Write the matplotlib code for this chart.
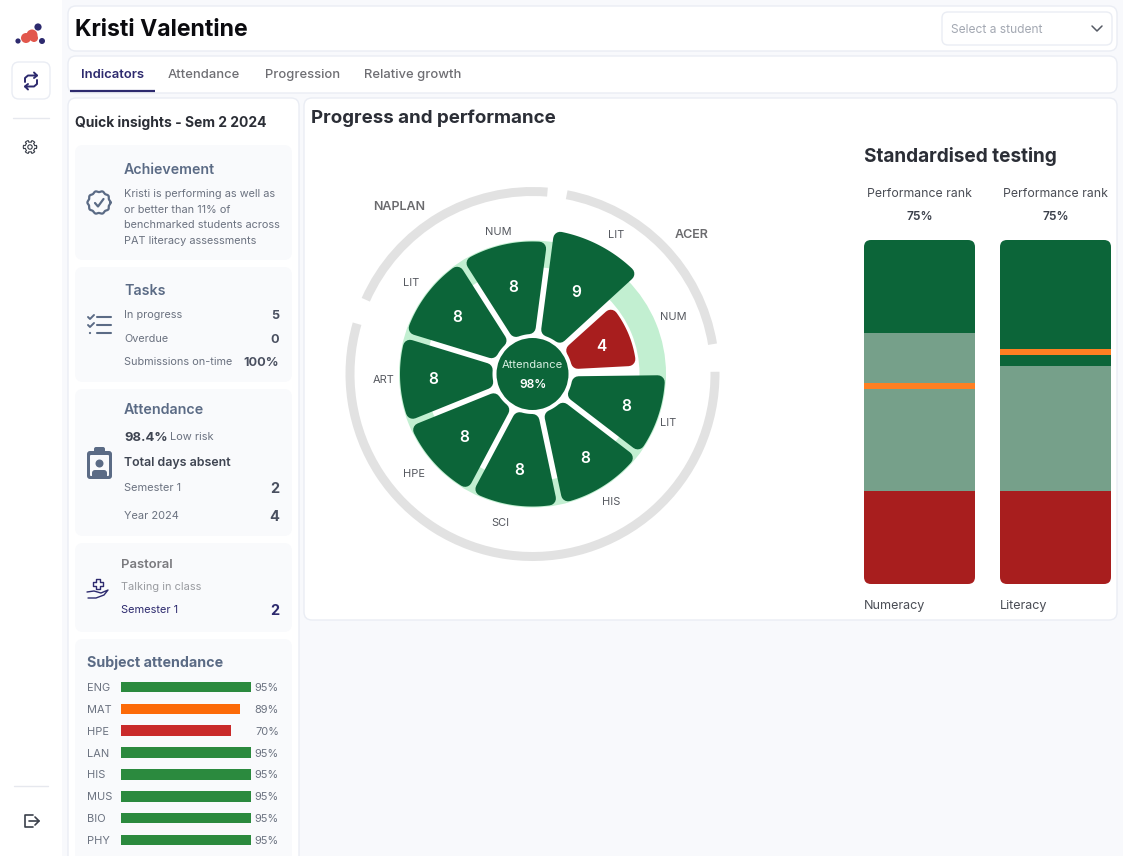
import numpy as np
import matplotlib
matplotlib.use("Agg")
import matplotlib.pyplot as plt
from matplotlib.patches import FancyBboxPatch, Circle
from matplotlib.transforms import ScaledTranslation

plt.rcParams['font.family'] = ['Inter', 'DejaVu Sans']

W, H = 1123, 856

# radial chart data
seg_names = ['LIT', 'NUM', 'LIT', 'HIS', 'SCI', 'HPE', 'ART', 'LIT', 'NUM']
seg_values = [9, 4, 8, 8, 8, 8, 8, 8, 8]
seg_colors = ['#0C6539', '#A81E1E'] + ['#0C6539'] * 7
attendance_pct = '98%'

# subject attendance
subjects = ['ENG', 'MAT', 'HPE', 'LAN', 'HIS', 'MUS', 'BIO', 'PHY']
subject_labels = ['95%', '89%', '70%', '95%', '95%', '95%', '95%', '95%']
subject_fill = [100, 91.5, 84.6, 100, 100, 100, 100, 100]
subject_colors = ['#2B8A3E', '#FC6A08', '#C92A2A', '#2B8A3E', '#2B8A3E', '#2B8A3E', '#2B8A3E', '#2B8A3E']

# standardised testing
test_names = ['Numeracy', 'Literacy']
test_rank = ['75%', '75%']
test_low = [27.1, 27.1]
test_mid = [72.9, 63.5]
test_marker = [57.6, 67.5]

DARK = '#0C6539'
SLATE = '#5B6B85'
GREY = '#6B7280'
INK = '#3A3F4A'
NAVY = '#2D2A6E'

fig = plt.figure(figsize=(W / 100, H / 100), dpi=100, facecolor='#F8F9FC')
base = fig.add_axes([0, 0, 1, 1])
base.set_xlim(0, W)
base.set_ylim(H, 0)
base.axis('off')


def box(x0, y0, x1, y1, fc='white', ec='#EAEDF4', rad=8, lw=1.0, z=1):
    p = FancyBboxPatch((x0, y0), x1 - x0, y1 - y0, boxstyle=f'round,pad=0,rounding_size={rad}',
                       fc=fc, ec=ec, lw=lw, zorder=z)
    base.add_patch(p)
    return p


def label(x, y, s, px=11, color=GREY, weight='normal', ha='left'):
    base.text(x, y - 0.7, s, fontsize=px * 0.72, color=color, fontweight=weight, ha=ha, va='center_baseline', zorder=6)


def line(xs, ys, color=SLATE, lw=1.4, z=5):
    base.plot(xs, ys, color=color, lw=lw, solid_capstyle='round', solid_joinstyle='round', zorder=z)


# sidebar
base.add_patch(plt.Rectangle((0, 0), 62, H, fc='white', ec='none', zorder=1))
for x, y, r, c in [(38, 27, 3.6, NAVY), (18, 41, 2.6, NAVY), (42, 41, 3, NAVY),
                   (26, 38, 5, '#E2574C'), (32, 35, 5.5, '#E2574C'), (34, 38, 4, '#E2574C')]:
    base.add_patch(Circle((x, y), r, fc=c, ec='none', zorder=5))
box(12, 62, 50, 99, rad=7)
line([25, 25, 28, 37, 34], [82, 78, 75.5, 75.5, 72.5], NAVY)
line([37, 34], [75.5, 78], NAVY)
line([37, 37, 34, 25, 28], [80, 84, 86.5, 86.5, 89.5], NAVY)
line([25, 28], [86.5, 84], NAVY)
line([13, 49], [118, 118], '#E6E8EE', 1)
# gear
a = np.linspace(0, 2 * np.pi, 240)
rr = 5.8 + 0.9 * np.sign(np.cos(6 * a))
line(30 + rr * np.cos(a), 147 + rr * np.sin(a), INK, 0.8)
base.add_patch(Circle((30, 147), 2.2, fc='none', ec=INK, lw=0.8, zorder=5))
line([14, 48], [786, 786], '#E6E8EE', 1)
line([33, 25, 25, 33], [815, 815, 827, 827], INK, 1.2)
line([29, 39], [821, 821], INK, 1.2)
line([35, 39, 35], [817, 821, 825], INK, 1.2)

# header and tabs
box(68, 6, 1117, 51)
label(75, 28.5, 'Kristi Valentine', 23, '#0B0B0F', 'bold')
box(942, 12, 1112, 45, rad=6)
label(951, 29, 'Select a student', 12, '#A3A8B2')
line([1092, 1097, 1102], [26, 31, 26], '#555A64', 1.1)
box(68, 56, 1117, 93)
label(81, 74, 'Indicators', 13, NAVY, 'semibold')
label(168, 74, 'Attendance', 13, '#6E6E73', 'medium')
label(265, 74, 'Progression', 13, '#6E6E73', 'medium')
label(364, 74, 'Relative growth', 13, '#6E6E73', 'medium')
base.plot([70, 155], [91, 91], color=NAVY, lw=1.6, solid_capstyle='butt', zorder=5)

# left panel
box(68, 98, 299, 880)
label(75, 122, 'Quick insights - Sem 2 2024', 13.9, '#2B2E36', 'bold')
tile = '#F9FAFC'
for y0, y1 in [(145, 260), (267, 382), (389, 536), (543, 632), (639, 880)]:
    box(75, y0, 292, y1, fc=tile, ec='none', rad=8)

label(124, 169, 'Achievement', 14.2, SLATE, 'semibold')
for i, s in enumerate(['Kristi is performing as well as', 'or better than 11% of',
                       'benchmarked students across', 'PAT literacy assessments']):
    label(124, 194 + i * 15.5, s, 10.9, GREY)
# badge icon
a = np.linspace(0, 2 * np.pi, 200)
rr = 11 + 0.6 * np.cos(10 * a)
line(99 + rr * np.cos(a), 202.5 + rr * np.sin(a), SLATE, 1.6)
line([95, 98, 103.5], [203, 206.5, 199], SLATE, 1.6)

label(124, 290, 'Tasks', 14.2, SLATE, 'semibold')
for y, s, v in [(315, 'In progress', '5'), (339, 'Overdue', '0'), (362, 'Submissions on-time', '100%')]:
    label(124, y, s, 10.9, GREY)
    label(279, y, v, 12.6, '#4A5060', 'bold', ha='right')
for y in [317, 325, 333]:
    line([97, 111], [y, y], SLATE, 1.5)
line([88, 90, 94], [317, 319, 315], SLATE, 1.4)
line([88, 90, 94], [325, 327, 323], SLATE, 1.4)
base.add_patch(Circle((90, 333), 1.1, fc=SLATE, ec='none', zorder=5))

label(124, 409, 'Attendance', 14.3, SLATE, 'semibold')
label(124, 437, '98.4%', 13, '#3F4552', 'bold')
label(170, 437, 'Low risk', 11, GREY)
label(124, 462, 'Total days absent', 12.4, '#3F4552', 'semibold')
for y, s, v in [(488, 'Semester 1', '2'), (516, 'Year 2024', '4')]:
    label(124, y, s, 11, GREY)
    label(279, y, v, 14.5, '#4A5060', 'bold', ha='right')
# clipboard icon
box(87, 451, 112, 479, fc=SLATE, ec='none', rad=3, z=5)
box(94, 447, 105, 454, fc=SLATE, ec='none', rad=2, z=5)
box(90, 455, 109, 476, fc=tile, ec='none', rad=1, z=5)
base.add_patch(Circle((99.5, 463.5), 4, fc=SLATE, ec='none', zorder=5))
box(92, 470, 107, 479, fc=SLATE, ec='none', rad=3, z=5)

label(121, 564, 'Pastoral', 13, '#7A7A7E', 'semibold')
label(121, 587, 'Talking in class', 11, '#999BA0')
label(121, 610, 'Semester 1', 11, NAVY)
label(279, 610, '2', 14.5, NAVY, 'bold', ha='right')
line([95.5, 95.5, 99.5, 99.5, 102.5, 102.5, 99.5, 99.5, 95.5, 95.5, 92.5, 92.5, 95.5],
     [582, 579, 579, 582, 582, 586, 586, 589, 589, 586, 586, 582, 582], NAVY, 1)
line([87, 94, 101, 108, 104, 96, 88], [592, 591, 593, 590, 595, 598, 598], NAVY, 1)

label(87, 662, 'Subject attendance', 14.3, SLATE, 'bold')

# subject bars
sub_ax = fig.add_axes([121 / W, 1 - 851 / H, 130 / W, 175 / H], facecolor='none', zorder=3)
ypos = np.arange(len(subjects))
sub_ax.barh(ypos, subject_fill, height=0.48, color=subject_colors)
sub_ax.set_xlim(0, 100)
sub_ax.set_ylim(len(subjects) - 0.5, -0.5)
sub_ax.set_yticks(ypos, subjects, fontsize=11 * 0.72, color=GREY)
sub_ax.tick_params(axis='y', length=0, pad=0)
for t in sub_ax.get_yticklabels():
    t.set_ha('left')
    t.set_x(-34 / 130)
sub_ax.set_xticks([])
for s in sub_ax.spines.values():
    s.set_visible(False)
for y, s in zip(ypos, subject_labels):
    sub_ax.text(1.215, y, s, transform=sub_ax.get_yaxis_transform(), fontsize=11 * 0.72,
                color=GREY, ha='right', va='center_baseline')

# right panel
box(304, 98, 1117, 620)
label(311, 117, 'Progress and performance', 18.7, '#2B2E36', 'bold')
label(864, 155, 'Standardised testing', 19, '#2B2E36', 'bold')

# radial chart, radius unit is one pixel
cx, cy, rmax = 532.5, 374, 192
pol = fig.add_axes([(cx - rmax) / W, 1 - (cy + rmax) / H, 2 * rmax / W, 2 * rmax / H],
                   projection='polar', facecolor='none', zorder=3)
pol.set_theta_zero_location('N')
pol.set_theta_direction(-1)
pol.set_rlim(0, rmax)
pol.axis('off')

# grey arcs round the outside (ACER, rest, NAPLAN)
for d0, d1 in [(10.8, 80.6), (89.3, 286), (294, 364.7)]:
    pol.bar(np.radians((d0 + d1) / 2), 9, width=np.radians(d1 - d0), bottom=178, color='#E2E2E2')
pol.bar(0, 26.5, width=2 * np.pi, bottom=107, color='#C2EFD1')


def radius(v):
    return np.interp(v, [4, 8, 9], [104, 132.5, 145])


seg_spans = [(7.5, 47.5), (48, 87), (89.3, 127.5), (127.5, 168), (168, 208),
             (208, 248), (248, 287), (287, 327.5), (327.5, 367.5)]
seg_label_r = [94, 75, 99, 98, 96, 92, 99, 95, 90]
r_in = 40
corner = 7
half_gap = 2.8
for (d0, d1), v, c, lr in zip(seg_spans, seg_values, seg_colors, seg_label_r):
    t0, t1 = np.radians(d0), np.radians(d1)
    ro = radius(v) - corner
    ri = r_in + corner
    g = half_gap + corner
    arc_o = np.linspace(t0 + np.arcsin(g / ro), t1 - np.arcsin(g / ro), 40)
    arc_i = np.linspace(t1 - np.arcsin(g / ri), t0 + np.arcsin(g / ri), 12)
    th = np.r_[arc_o, arc_i]
    rs = np.r_[np.full(40, ro), np.full(12, ri)]
    pol.fill(th, rs, fc=c, ec=c, lw=corner * 2 * 0.72, joinstyle='round', zorder=3)
    pol.text((t0 + t1) / 2, lr, str(v), color='white', fontsize=15.5 * 0.72,
             fontweight='semibold', ha='center', va='center_baseline', zorder=5)

pol.bar(0, 36, width=2 * np.pi, bottom=0, color=DARK, zorder=4)
pol.text(0, 0, 'Attendance', color='#D8EFE2', fontsize=11.2 * 0.72, ha='center', va='center_baseline', zorder=6,
         transform=pol.transData + ScaledTranslation(0, 10 / 100, fig.dpi_scale_trans))
pol.text(0, 0, attendance_pct, color='white', fontsize=12 * 0.72, fontweight='semibold', ha='center',
         va='center_baseline', zorder=6,
         transform=pol.transData + ScaledTranslation(0, -9 / 100, fig.dpi_scale_trans))

# segment name positions taken by eye, they do not follow one radius
name_xy = [(616, 235), (673, 317), (668, 423), (611, 502), (500, 523), (414, 474), (384, 380), (411, 283), (498, 232)]
for (x, y), s in zip(name_xy, seg_names):
    label(x, y, s, 11, '#55585F', ha='center')
label(399, 206, 'NAPLAN', 12.5, '#6B6B6E', 'semibold', ha='center')
label(692, 234, 'ACER', 12.5, '#6B6B6E', 'semibold', ha='center')

# stacked bars
for i, x0 in enumerate([864, 1000]):
    bw = 111
    y0, y1 = 240, 584
    ax = fig.add_axes([x0 / W, 1 - y1 / H, bw / W, (y1 - y0) / H], facecolor='none', zorder=3)
    ax.set_xlim(0, 1)
    ax.set_ylim(0, 100)
    ax.axis('off')
    clip = FancyBboxPatch((x0, y0), bw, y1 - y0, boxstyle='round,pad=0,rounding_size=7', fc='none', ec='none')
    base.add_patch(clip)
    parts = [ax.bar(0.5, test_low[i], width=1, color='#A81E1E'),
             ax.bar(0.5, test_mid[i] - test_low[i], width=1, bottom=test_low[i], color='#76A08A'),
             ax.bar(0.5, 100 - test_mid[i], width=1, bottom=test_mid[i], color=DARK),
             ax.bar(0.5, 1.75, width=1, bottom=test_marker[i] - 0.875, color='#FF7F22')]
    for part in parts:
        for r in part:
            r.set_clip_path(clip)
    mid = x0 + bw / 2
    label(mid, 193, 'Performance rank', 12.3, '#4A4D55', ha='center')
    label(mid, 216, test_rank[i], 12, INK, 'semibold', ha='center')
    label(x0, 605.5, test_names[i], 12.6, '#4A4D55')

fig.savefig('out.png', dpi=100, facecolor=fig.get_facecolor())
